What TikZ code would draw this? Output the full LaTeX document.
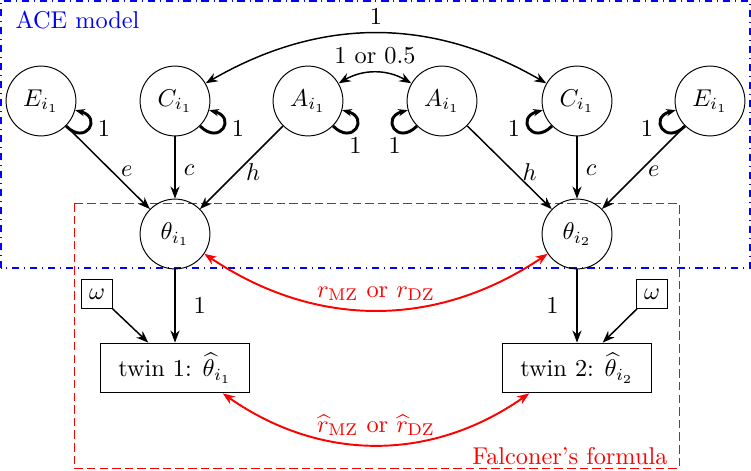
\documentclass[tikz,border=0pt]{standalone}
\usepackage{amsmath,amssymb}
\usetikzlibrary{arrows.meta}
\definecolor{aceblue}{RGB}{0,0,255}
\definecolor{falconred}{RGB}{255,0,0}

\begin{document}
\begin{tikzpicture}[x=0.01446cm,y=0.01446cm,
  latent/.style={draw,circle,minimum size=1.01cm,inner sep=0pt},
  twinbox/.style={draw,rectangle,minimum width=2.15cm,minimum height=0.72cm},
  noisebox/.style={draw,rectangle,minimum width=0.45cm,minimum height=0.41cm,inner sep=1pt},
  arr/.style={-{Stealth[length=5pt]},semithick},
  biarr/.style={{Stealth[length=5pt]}-{Stealth[length=5pt]},semithick},
  corr/.style={{Stealth[length=5pt]}-{Stealth[length=5pt]},thick,falconred},
  selfloop/.style={-{Stealth[length=4pt]},very thick,min distance=4.1mm,looseness=1}]
  \useasboundingbox (0,0) rectangle (751,470);
  \draw[aceblue,dash dot,semithick] (1,202) rectangle (750,469);
  \draw[falconred,dash pattern=on 3.5pt off 1.7pt] (74,267) rectangle (679,2);
  \node[aceblue,anchor=west] (acelabel) at (7,450) {ACE model};
  \node[falconred,anchor=east] (falclabel) at (676,14) {Falconer's formula};
  \foreach \nm/\x/\lab in {E1/41/E,C1/175/C,A1/308/A,A2/442/A,C2/577/C,E2/710/E}{
    \node[latent] (\nm) at (\x,369) {$\lab_{i_1}$};
  }
  \node[latent] (T1) at (175,236) {$\theta_{i_1}$};
  \node[latent] (T2) at (577,236) {$\theta_{i_2}$};
  \node[twinbox] (tw1) at (175,102) {twin 1: $\widehat{\theta}_{i_1}$};
  \node[twinbox] (tw2) at (577,102) {twin 2: $\widehat{\theta}_{i_2}$};
  \node[noisebox] (W1) at (97,176) {$\omega$};
  \node[noisebox] (W2) at (652,176) {$\omega$};
  \foreach \src/\lab in {E1/e,C1/c,A1/h}{
    \draw[arr] (\src) -- node[right,pos=0.55] {$\lab$} (T1);
  }
  \foreach \src/\lab in {A2/h,C2/c,E2/e}{
    \draw[arr] (\src) -- node[right,pos=0.55] {$\lab$} (T2);
  }
  \foreach \nm in {E1,C1}{\draw[selfloop] (\nm) to[out=-45,in=-15] node[right] {$1$} (\nm);}
  \foreach \nm in {E2,C2}{\draw[selfloop] (\nm) to[out=-135,in=-165] node[left] {$1$} (\nm);}
  \draw[selfloop] (A1) to[out=-45,in=-15] node[below] {$1$} (A1);
  \draw[selfloop] (A2) to[out=-135,in=-165] node[below] {$1$} (A2);
  \draw[biarr] (C1) to[bend left=30] node[above] {$1$} (C2);
  \draw[biarr] (A1) to[bend left=30] node[above] {$1$ or $0.5$} (A2);
  \draw[arr] (T1) -- node[right=4pt] {$1$} (tw1);
  \draw[arr] (T2) -- node[left=4pt] {$1$} (tw2);
  \draw[arr] (W1) -- (tw1);
  \draw[arr] (W2) -- (tw2);
  \draw[corr] (T1) to[bend right=34] node[above] {$r_{\mathrm{MZ}}$ or $r_{\mathrm{DZ}}$} (T2);
  \draw[corr] (tw1.-28) to[out=-35,in=-145] node[above] {$\widehat{r}_{\mathrm{MZ}}$ or $\widehat{r}_{\mathrm{DZ}}$} (tw2.-152);
\end{tikzpicture}
\end{document}
